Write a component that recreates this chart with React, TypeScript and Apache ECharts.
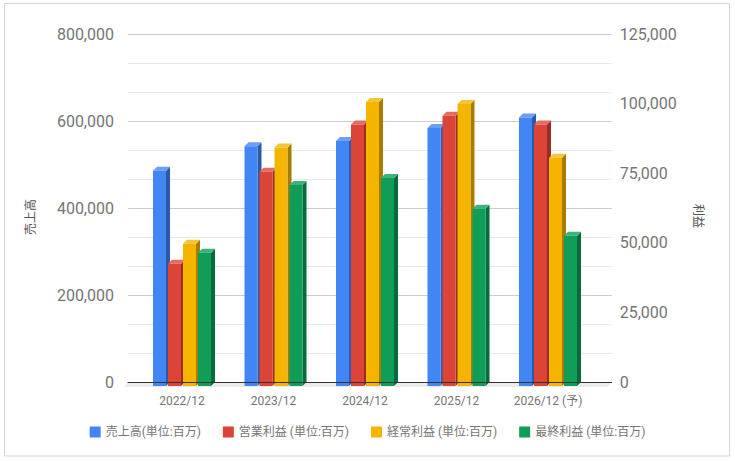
import React, { useEffect, useRef } from "react";
import * as echarts from "echarts";

const categories = ["2022/12", "2023/12", "2024/12", "2025/12", "2026/12 (予)"];
const seriesNames = [
  "売上高(単位:百万)",
  "営業利益 (単位:百万)",
  "経常利益 (単位:百万)",
  "最終利益 (単位:百万)",
];
const sales = [495000, 551000, 563000, 593000, 617000];
const operatingProfit = [43900, 77000, 93900, 97100, 93900];
const ordinaryProfit = [51100, 85700, 102000, 101300, 82000];
const netProfit = [47900, 72200, 74700, 63700, 54000];
const leftTicks = { min: 0, max: 800000, interval: 200000 };
const rightTicks = { min: 0, max: 125000, interval: 25000 };

const palette = [
  { front: "#4285f4", side: "#2d5aa8", top: "#6c9ef6" },
  { front: "#db4437", side: "#972e26", top: "#e46c61" },
  { front: "#f4b400", side: "#a87c00", top: "#f7c534" },
  { front: "#0f9d58", side: "#096b3c", top: "#3db27a" },
];

const FONT = "Roboto, 'Noto Sans CJK JP', sans-serif";
const fmt = (v: number) => v.toLocaleString("en-US");

export default function App() {
  const ref = useRef<HTMLDivElement>(null);
  useEffect(() => {
    if (!ref.current) return;
    const chart = echarts.init(ref.current, undefined, { renderer: "svg" });
    const allData = [sales, operatingProfit, ordinaryProfit, netProfit];
    const PITCH = 15;
    const W = 13;
    const D = 4;
    const series = allData.map((arr, s) => ({
      type: "custom" as const,
      name: seriesNames[s],
      xAxisIndex: 1,
      yAxisIndex: s === 0 ? 2 : 3,
      clip: false,
      itemStyle: { color: palette[s].front },
      color: palette[s].front,
      encode: { x: 0, y: 1 },
      data: arr.map((v, i) => [i, v]),
      renderItem: (params: any, api: any) => {
        const idx = api.value(0);
        const top = api.coord([idx, api.value(1)]);
        const base = api.coord([idx, 0]);
        const left = top[0] - 29 + PITCH * s;
        const t = top[1];
        const b = base[1];
        const c = palette[s];
        return {
          type: "group",
          children: [
            {
              type: "polygon",
              shape: {
                points: [
                  [left + W, t],
                  [left + W + D, t - D],
                  [left + W + D, b - D],
                  [left + W, b],
                ],
              },
              style: { fill: c.side },
            },
            {
              type: "polygon",
              shape: {
                points: [
                  [left, t],
                  [left + D, t - D],
                  [left + W + D, t - D],
                  [left + W, t],
                ],
              },
              style: { fill: c.top },
            },
            {
              type: "rect",
              shape: { x: left, y: t, width: W, height: b - t },
              style: { fill: c.front },
            },
          ],
        };
      },
    }));

    chart.setOption({
      animation: false,
      textStyle: { fontFamily: FONT },
      grid: [
        { left: 128, right: 123.3, top: 34, bottom: 79, containLabel: false },
        { left: 136.25, right: 141.25, top: 38, bottom: 75, containLabel: false },
      ],
      xAxis: [
        {
          type: "category",
          gridIndex: 0,
          data: categories,
          axisLine: { show: true, lineStyle: { color: "#333333", width: 1 } },
          axisTick: { show: false },
          axisLabel: { show: false },
          splitLine: { show: false },
          z: 5,
        },
        {
          type: "category",
          gridIndex: 1,
          data: categories,
          axisLine: { show: false },
          axisTick: { show: false },
          axisLabel: {
            show: true,
            color: "#757575",
            fontSize: 12,
            margin: 9,
            fontFamily: FONT,
          },
          splitLine: { show: false },
        },
      ],
      yAxis: [
        {
          type: "value",
          gridIndex: 0,
          position: "left",
          min: leftTicks.min,
          max: leftTicks.max,
          interval: leftTicks.interval,
          axisLine: { show: false },
          axisTick: { show: false },
          axisLabel: {
            color: "#757575",
            fontSize: 16,
            margin: 14,
            formatter: fmt,
            fontFamily: FONT,
          },
          splitLine: { show: true, lineStyle: { color: "#cccccc", width: 1 } },
          minorTick: { show: false, splitNumber: 3 },
          minorSplitLine: { show: true, lineStyle: { color: "#e8e8e8", width: 1 } },
        },
        {
          type: "value",
          gridIndex: 0,
          position: "right",
          min: rightTicks.min,
          max: rightTicks.max,
          interval: rightTicks.interval,
          axisLine: { show: false },
          axisTick: { show: false },
          axisLabel: {
            color: "#757575",
            fontSize: 16,
            margin: 8,
            formatter: fmt,
            fontFamily: FONT,
          },
          splitLine: { show: false },
        },
        {
          type: "value",
          gridIndex: 1,
          position: "left",
          min: leftTicks.min,
          max: leftTicks.max,
          interval: leftTicks.interval,
          show: false,
          splitLine: { show: false },
        },
        {
          type: "value",
          gridIndex: 1,
          position: "right",
          min: rightTicks.min,
          max: rightTicks.max,
          interval: rightTicks.interval,
          show: false,
          splitLine: { show: false },
        },
      ],
      legend: {
        show: true,
        data: seriesNames,
        top: 421,
        left: "center",
        icon: "rect",
        itemWidth: 11,
        itemHeight: 11,
        itemGap: 22,
        textStyle: { color: "#757575", fontSize: 12, fontFamily: FONT },
      },
      graphic: [
        {
          type: "rect",
          shape: { x: 4.5, y: 3.5, width: 725, height: 452.5 },
          style: { fill: "none", stroke: "#d6d6d6", lineWidth: 1 },
          silent: true,
          z: -10,
        },
        {
          type: "polygon",
          shape: {
            points: [
              [128, 382],
              [611.7, 382],
              [607.7, 387],
              [124, 387],
            ],
          },
          style: { fill: "#ebebeb" },
          silent: true,
          z: -5,
        },
        {
          type: "text",
          x: 31,
          y: 217,
          rotation: Math.PI / 2,
          style: {
            text: "売上高",
            fill: "#555555",
            fontSize: 12,
            fontFamily: FONT,
            align: "center",
            verticalAlign: "middle",
          },
        },
        {
          type: "text",
          x: 698,
          y: 216,
          rotation: -Math.PI / 2,
          style: {
            text: "利益",
            fill: "#555555",
            fontSize: 12,
            fontFamily: FONT,
            align: "center",
            verticalAlign: "middle",
          },
        },
      ],
      series,
    });
    return () => chart.dispose();
  }, []);
  return (
    <div
      ref={ref}
      style={{ position: "fixed", left: 0, top: 0, width: 735, height: 461, background: "#ffffff" }}
    />
  );
}
